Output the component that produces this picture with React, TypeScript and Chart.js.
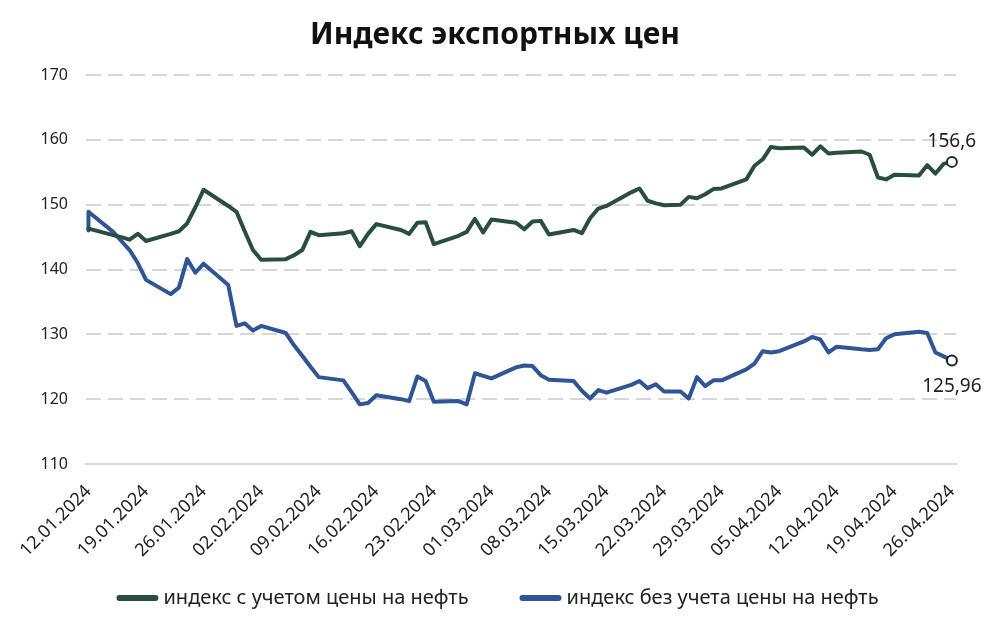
import React, { useEffect, useRef } from "react";
import { Chart, registerables } from "chart.js";

Chart.register(...registerables);

const TITLE = "Индекс экспортных цен";
const SERIES_WITH_OIL = "индекс с учетом цены на нефть";
const SERIES_WITHOUT_OIL = "индекс без учета цены на нефть";

const dates = [
  "12.01.2024", "15.01.2024", "16.01.2024", "17.01.2024", "18.01.2024", "19.01.2024",
  "22.01.2024", "23.01.2024", "24.01.2024", "25.01.2024", "26.01.2024",
  "29.01.2024", "30.01.2024", "31.01.2024", "01.02.2024", "02.02.2024",
  "05.02.2024", "06.02.2024", "07.02.2024", "08.02.2024", "09.02.2024",
  "12.02.2024", "13.02.2024", "14.02.2024", "15.02.2024", "16.02.2024",
  "19.02.2024", "20.02.2024", "21.02.2024", "22.02.2024", "23.02.2024",
  "26.02.2024", "27.02.2024", "28.02.2024", "29.02.2024", "01.03.2024",
  "04.03.2024", "05.03.2024", "06.03.2024", "07.03.2024", "08.03.2024",
  "11.03.2024", "12.03.2024", "13.03.2024", "14.03.2024", "15.03.2024",
  "18.03.2024", "19.03.2024", "20.03.2024", "21.03.2024", "22.03.2024", "24.03.2024",
  "25.03.2024", "26.03.2024", "27.03.2024", "28.03.2024", "29.03.2024",
  "01.04.2024", "02.04.2024", "03.04.2024", "04.04.2024", "05.04.2024",
  "08.04.2024", "09.04.2024", "10.04.2024", "11.04.2024", "12.04.2024",
  "15.04.2024", "16.04.2024", "17.04.2024", "18.04.2024", "19.04.2024",
  "22.04.2024", "23.04.2024", "24.04.2024", "25.04.2024", "26.04.2024",
];

const withOil = [
  146.3, 145.3, 145.0, 144.6, 145.5, 144.4,
  145.5, 145.9, 147.1, 149.6, 152.3,
  149.8, 148.9, 145.9, 143.0, 141.5,
  141.6, 142.2, 143.0, 145.8, 145.3,
  145.6, 145.9, 143.6, 145.5, 147.0,
  146.1, 145.5, 147.2, 147.3, 143.9,
  145.2, 145.8, 147.8, 145.7, 147.7,
  147.2, 146.2, 147.4, 147.5, 145.4,
  146.1, 145.6, 147.9, 149.4, 149.8,
  151.9, 152.5, 150.6, 150.2, 149.9, 150.0,
  151.2, 151.0, 151.6, 152.4, 152.5,
  153.9, 156.0, 157.0, 158.9, 158.7,
  158.8, 157.7, 159.0, 157.9, 158.0,
  158.2, 157.7, 154.2, 153.9, 154.6,
  154.5, 156.1, 154.8, 156.3, 156.6,
];

const withoutOilOpening = 146.0;
const withoutOil = [
  148.9, 145.8, 144.4, 143.0, 141.0, 138.4,
  136.2, 137.2, 141.6, 139.5, 140.9,
  137.6, 131.3, 131.7, 130.6, 131.3,
  130.2, 128.3, 126.7, 125.0, 123.4,
  122.9, 121.1, 119.2, 119.4, 120.6,
  120.0, 119.7, 123.5, 122.8, 119.6,
  119.7, 119.2, 124.0, 123.6, 123.2,
  124.9, 125.2, 125.1, 123.7, 123.0,
  122.8, 121.3, 120.1, 121.4, 121.0,
  122.2, 122.8, 121.7, 122.3, 121.2, 121.2,
  120.1, 123.4, 122.0, 122.9, 122.9,
  124.6, 125.5, 127.4, 127.2, 127.4,
  128.9, 129.6, 129.2, 127.2, 128.1,
  127.7, 127.6, 127.7, 129.4, 130.0,
  130.4, 130.2, 127.2, 126.6, 125.96,
];

const tickDates = [
  "12.01.2024", "19.01.2024", "26.01.2024", "02.02.2024", "09.02.2024",
  "16.02.2024", "23.02.2024", "01.03.2024", "08.03.2024", "15.03.2024",
  "22.03.2024", "29.03.2024", "05.04.2024", "12.04.2024", "19.04.2024",
  "26.04.2024",
];

const yMin = 110;
const yMax = 170;
const yStep = 10;

const GREEN = "#294e3b";
const BLUE = "#2f5597";
const FONT = "'Noto Sans', 'DejaVu Sans', sans-serif";

function toUtcDay(s: string): number {
  const [d, m, y] = s.split(".").map(Number);
  return Date.UTC(y, m - 1, d) / 86400000;
}
const baseDay = toUtcDay(dates[0]);
const dayOf = (s: string) => toUtcDay(s) - baseDay;

const fmt = (v: number) => String(v).replace(".", ",");

const endLabelPlugin = {
  id: "endLabels",
  afterDatasetsDraw(chart: any) {
    const ctx = chart.ctx;
    chart.data.datasets.forEach((ds: any, i: number) => {
      const meta = chart.getDatasetMeta(i);
      const el = meta.data[meta.data.length - 1];
      const v = ds.data[ds.data.length - 1].y;
      ctx.save();
      ctx.font = `19px ${FONT}`;
      ctx.fillStyle = "#222";
      ctx.textAlign = "center";
      ctx.textBaseline = "middle";
      ctx.fillText(fmt(v), el.x, el.y + ds.endLabelOffset);
      ctx.restore();
    });
  },
};

// Bottom legend: line sample + label, items centred under the chart
const legendPlugin = {
  id: "lineLegend",
  afterDraw(chart: any) {
    const ctx = chart.ctx;
    const sample = 42;
    const gap = 5;
    const itemGap = 51;
    const cy = 598;
    const centerX = 497.5;
    ctx.save();
    ctx.font = `20px ${FONT}`;
    const items = chart.data.datasets.map((ds: any) => ({
      text: ds.label,
      color: ds.borderColor,
      w: ctx.measureText(ds.label).width,
    }));
    const total =
      items.reduce((s: number, it: any) => s + sample + gap + it.w, 0) + itemGap * (items.length - 1);
    let x = centerX - total / 2;
    items.forEach((it: any) => {
      ctx.strokeStyle = it.color;
      ctx.lineWidth = 6;
      ctx.lineCap = "round";
      ctx.beginPath();
      ctx.moveTo(x + 3, cy);
      ctx.lineTo(x + sample - 3, cy);
      ctx.stroke();
      ctx.fillStyle = "#222";
      ctx.textAlign = "left";
      ctx.textBaseline = "middle";
      ctx.fillText(it.text, x + sample + gap, cy);
      x += sample + gap + it.w + itemGap;
    });
    ctx.restore();
  },
};

export default function App() {
  const ref = useRef<HTMLCanvasElement | null>(null);

  useEffect(() => {
    if (!ref.current) return;
    const greenData = dates.map((d, i) => ({ x: dayOf(d), y: withOil[i] }));
    const blueData = [
      { x: dayOf(dates[0]), y: withoutOilOpening },
      ...dates.map((d, i) => ({ x: dayOf(d), y: withoutOil[i] })),
    ];
    const lastRadius = (n: number) => (ctx: any) => (ctx.dataIndex === n - 1 ? 5 : 0);

    const chart = new Chart(ref.current, {
      type: "line",
      data: {
        datasets: [
          {
            label: SERIES_WITH_OIL,
            data: greenData,
            borderColor: GREEN,
            backgroundColor: GREEN,
            borderWidth: 4,
            borderJoinStyle: "round",
            borderCapStyle: "round",
            tension: 0,
            clip: false,
            pointRadius: lastRadius(greenData.length),
            pointHoverRadius: 0,
            pointBackgroundColor: "#ffffff",
            pointBorderColor: "#1f2a24",
            pointBorderWidth: 2,
            endLabelOffset: -20,
          } as any,
          {
            label: SERIES_WITHOUT_OIL,
            data: blueData,
            borderColor: BLUE,
            backgroundColor: BLUE,
            borderWidth: 4,
            borderJoinStyle: "round",
            borderCapStyle: "round",
            tension: 0,
            clip: false,
            pointRadius: lastRadius(blueData.length),
            pointHoverRadius: 0,
            pointBackgroundColor: "#ffffff",
            pointBorderColor: "#1c2233",
            pointBorderWidth: 2,
            endLabelOffset: 26,
          } as any,
        ],
      },
      options: {
        animation: false,
        responsive: false,
        devicePixelRatio: 1,
        layout: { padding: { left: 34, right: 33, top: 0, bottom: 62 } },
        scales: {
          x: {
            type: "linear",
            min: -0.3,
            max: 105.5,
            afterBuildTicks: (scale: any) => {
              scale.ticks = tickDates.map((d) => ({ value: dayOf(d) }));
            },
            afterFit: (scale: any) => {
              scale.height = 100;
            },
            ticks: {
              autoSkip: false,
              maxRotation: 45,
              minRotation: 45,
              padding: 17,
              color: "#222",
              font: { family: FONT, size: 18 },
              callback: (value: any) => {
                const t = tickDates.find((d) => dayOf(d) === value);
                return t ?? "";
              },
            },
            grid: { display: false, drawTicks: false },
            border: { display: true, color: "#d9d9d9", width: 2 },
          },
          y: {
            min: yMin,
            max: yMax,
            afterFit: (scale: any) => {
              scale.width = 52;
            },
            ticks: {
              stepSize: yStep,
              padding: 18,
              color: "#222",
              font: { family: FONT, size: 16 },
            },
            grid: { color: "#d6d6d6", lineWidth: 2, drawTicks: false },
            border: { display: false, dash: [15, 7] },
          },
        },
        plugins: {
          title: {
            display: true,
            text: TITLE,
            color: "#111",
            font: { family: FONT, size: 30, weight: "bold" },
            padding: { top: 17, bottom: 22 },
          },
          legend: { display: false },
          tooltip: { enabled: false },
        },
      } as any,
      plugins: [endLabelPlugin, legendPlugin],
    });
    return () => chart.destroy();
  }, []);

  return (
    <div style={{ position: "absolute", left: 0, top: 0, width: 989, height: 626, background: "#fff" }}>
      <canvas ref={ref} width={989} height={626} />
    </div>
  );
}
